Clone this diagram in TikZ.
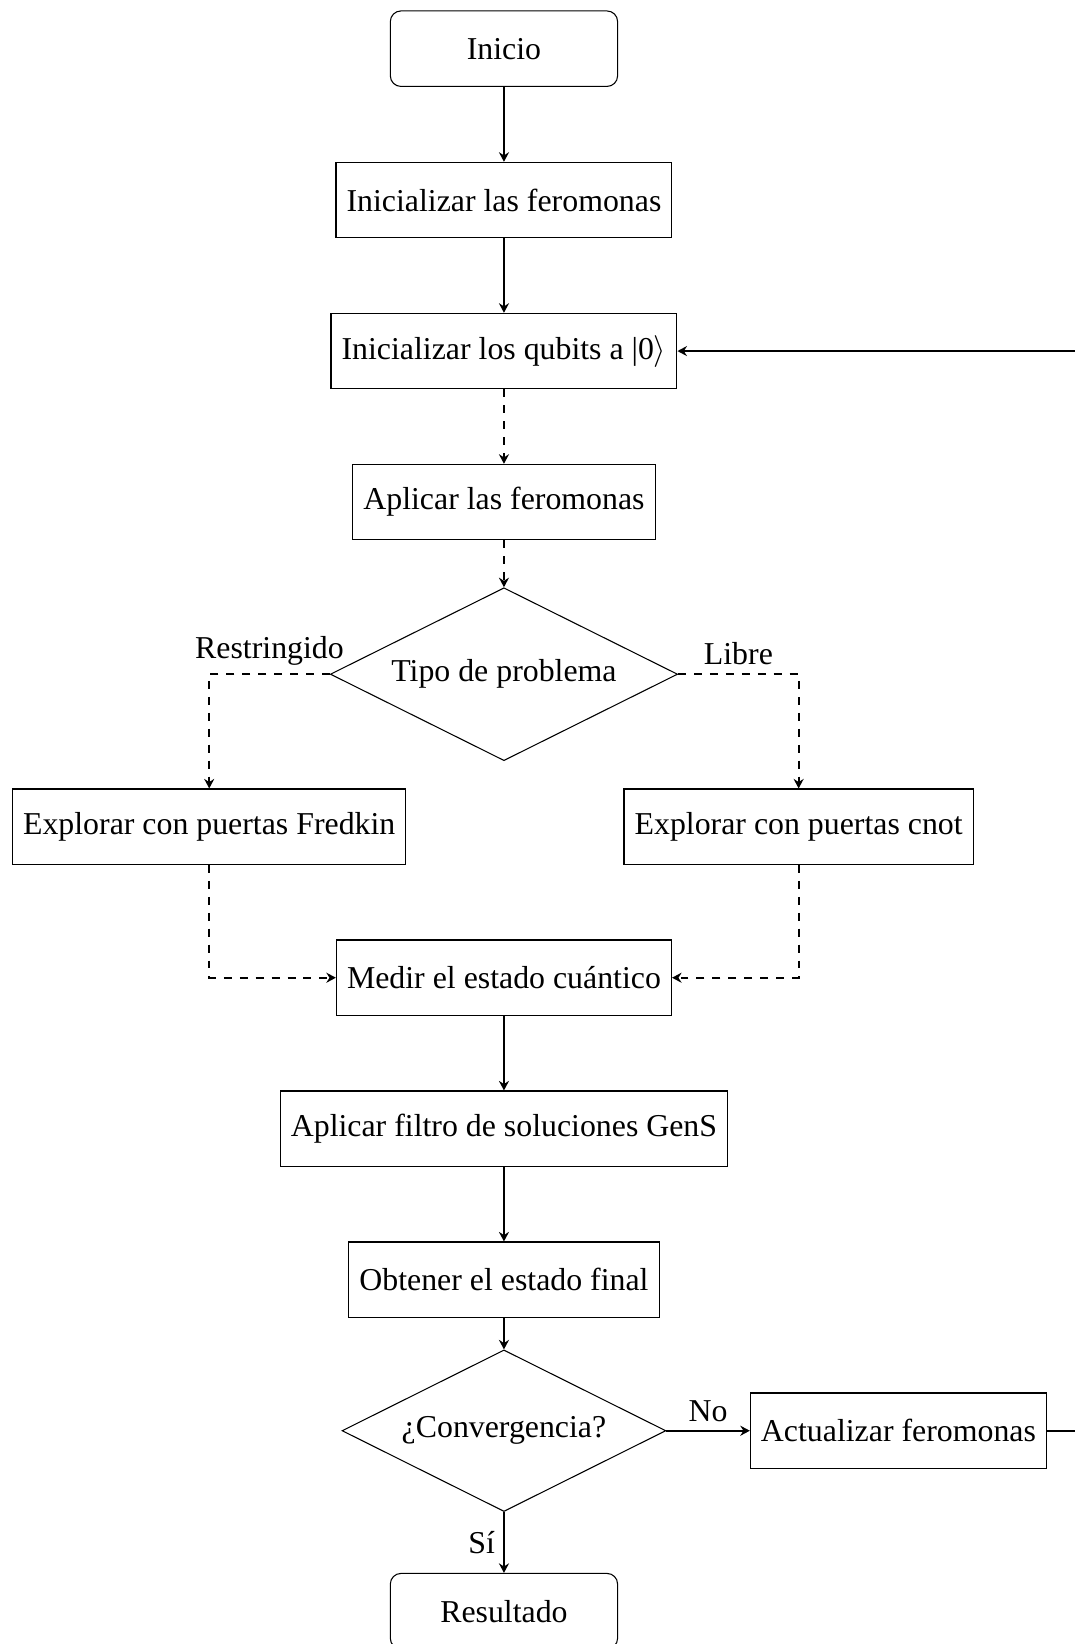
\documentclass[tikz,border=0pt]{standalone}
\usepackage{fontspec}
\setmainfont{Liberation Serif}
\usetikzlibrary{shapes.geometric,arrows.meta}
\begin{document}
\begin{tikzpicture}[
  every node/.style={font=\fontsize{12}{14.4}\selectfont},
  procbox/.style={draw, rectangle, minimum height=1cm, inner sep=4pt, line width=0.4pt},
  termbox/.style={procbox, rounded corners=4pt, minimum width=3.01cm},
  decbox/.style={draw, diamond, aspect=2, inner sep=0pt, line width=0.4pt},
  flow/.style={-{Stealth[length=3.6pt, width=3.8pt, inset=1.2pt]}, thick},
  dflow/.style={flow, dashed},
  lbl/.style={inner sep=3pt}
]
\useasboundingbox (0,0) rectangle (14.238,-21.775);

\node[termbox] (inicio) at (6.675,-0.645) {Inicio};
\node[procbox] (initfer) at (6.675,-2.65) {Inicializar las feromonas};
\node[procbox] (initq) at (6.675,-4.65) {Inicializar los qubits a |0$\rangle$};
\node[procbox] (aplfer) at (6.675,-6.65) {Aplicar las feromonas};
\node[decbox, minimum width=4.6cm, minimum height=2.29cm] (tipo) at (6.675,-8.93) {Tipo de problema};
\node[procbox] (fredkin) at (2.771,-10.95) {Explorar con puertas Fredkin};
\node[procbox] (cnot) at (10.578,-10.95) {Explorar con puertas cnot};
\node[procbox] (medir) at (6.675,-12.95) {Medir el estado cuántico};
\node[procbox] (filtro) at (6.675,-14.95) {Aplicar filtro de soluciones GenS};
\node[procbox] (obtener) at (6.675,-16.95) {Obtener el estado final};
\node[decbox, minimum width=4.29cm, minimum height=2.14cm] (conv) at (6.675,-18.95) {¿Convergencia?};
\node[procbox] (actual) at (11.90,-18.95) {Actualizar feromonas};
\node[termbox] (result) at (6.675,-21.34) {Resultado};
\coordinate (loop) at (14.6,-4.65);

\draw[flow] (inicio) -- (initfer);
\draw[flow] (initfer) -- (initq);
\draw[dflow] (initq) -- (aplfer);
\draw[dflow] (aplfer) -- (tipo);
\draw[dflow] (tipo.west) -| node[pos=0.25, above, lbl] {Restringido} (fredkin.north);
\draw[dflow] (tipo.east) -| node[pos=0.25, above, lbl] {Libre} (cnot.north);
\draw[dflow] (fredkin.south) |- (medir.west);
\draw[dflow] (cnot.south) |- (medir.east);
\draw[flow] (medir) -- (filtro);
\draw[flow] (filtro) -- (obtener);
\draw[flow] (obtener) -- (conv);
\draw[flow] (conv.east) -- node[above, lbl] {No} (actual.west);
\draw[flow] (conv.south) -- node[left, lbl] {Sí} (result.north);
\draw[flow] (actual.east) -| (loop) -- (initq.east);
\end{tikzpicture}
\end{document}
